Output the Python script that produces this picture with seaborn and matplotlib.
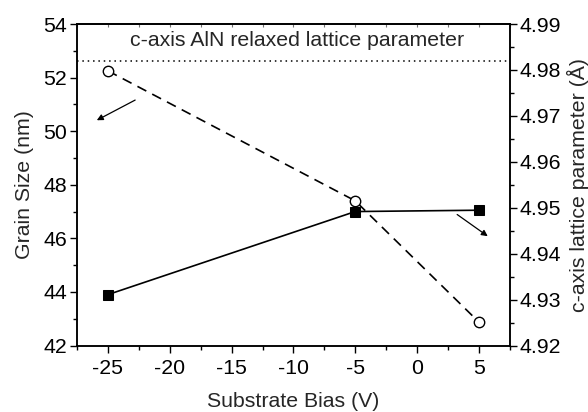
import matplotlib
matplotlib.use("Agg")
import matplotlib.pyplot as plt
from matplotlib.ticker import MultipleLocator, FormatStrFormatter, NullFormatter
import seaborn as sns
import pandas as pd

# Measured data
bias_v = [-25, -5, 5]
grain_size_nm = [43.9, 47.0, 47.05]
lattice_c_ang = [4.9798, 4.9515, 4.9251]
relaxed_c_ang = 4.982

sns.set_style("ticks")
plt.rcParams["font.family"] = ["Liberation Sans", "DejaVu Sans"]
plt.rcParams["axes.unicode_minus"] = False
plt.rcParams["xtick.color"] = "black"
plt.rcParams["ytick.color"] = "black"
FS = 15.3

df = pd.DataFrame({"bias": bias_v, "grain": grain_size_nm, "lattice": lattice_c_ang})

fig = plt.figure(figsize=(5.88, 4.12), dpi=100)
ax = fig.add_axes([0.131, 0.1614, 0.736, 0.7803])
ax2 = ax.twinx()

# Grain size: solid line with filled squares
sns.lineplot(data=df, x="bias", y="grain", ax=ax, color="black", lw=1.2,
             marker="s", markersize=7, markeredgecolor="black",
             markerfacecolor="black", zorder=3)

# Lattice parameter: dashed line with open circles
sns.lineplot(data=df, x="bias", y="lattice", ax=ax2, color="black", lw=1.2,
             marker="o", markersize=7.5, markerfacecolor="white",
             markeredgecolor="black", markeredgewidth=1.0, zorder=3)
ax2.lines[0].set_dashes([6, 4])

ax2.axhline(relaxed_c_ang, color="black", lw=1.1, ls=(0, (1, 2.5)))
ax.text(-9.7, 53.17, "c-axis AlN relaxed lattice parameter", ha="center",
        va="baseline", fontsize=FS)

# Arrows pointing to each series' axis
arrow = dict(arrowstyle="-|>", color="black", lw=0.9, mutation_scale=9)
ax.annotate("", xy=(-26.1, 50.36), xytext=(-22.6, 51.21), arrowprops=arrow)
ax.annotate("", xy=(5.9, 46.02), xytext=(3.06, 46.95), arrowprops=arrow)

ax.set_xlim(-27.5, 7.5)
ax.set_ylim(42, 54)
ax2.set_ylim(4.92, 4.99)

ax.xaxis.set_major_locator(MultipleLocator(5))
ax.xaxis.set_minor_locator(MultipleLocator(2.5))
ax.yaxis.set_major_locator(MultipleLocator(2))
ax.yaxis.set_minor_locator(MultipleLocator(1))
ax2.yaxis.set_major_locator(MultipleLocator(0.01))
ax2.yaxis.set_minor_locator(MultipleLocator(0.005))
ax2.yaxis.set_major_formatter(FormatStrFormatter("%.2f"))

for a in (ax, ax2):
    a.tick_params(which="major", direction="out", length=5, width=1,
                  labelsize=FS, pad=2, color="black")
    a.tick_params(which="minor", direction="out", length=3, width=1,
                  color="black")
    for s in a.spines.values():
        s.set_visible(True)
        s.set_linewidth(1.1)
        s.set_color("black")
ax.tick_params(axis="x", which="major", pad=5)

# Small inward ticks along the top frame
top = ax.secondary_xaxis("top")
top.xaxis.set_major_locator(MultipleLocator(2.5))
top.xaxis.set_major_formatter(NullFormatter())
top.tick_params(direction="in", length=2.5, width=0.8, color="0.45")
top.spines["top"].set_linewidth(1.1)

ax.set_xlabel("Substrate Bias (V)", fontsize=FS, labelpad=10)
ax.set_ylabel("Grain Size (nm)", fontsize=FS, labelpad=7)
ax2.set_ylabel("c-axis lattice parameter (\u00c5)", fontsize=FS, labelpad=4)

fig.savefig("out.png", dpi=100)
